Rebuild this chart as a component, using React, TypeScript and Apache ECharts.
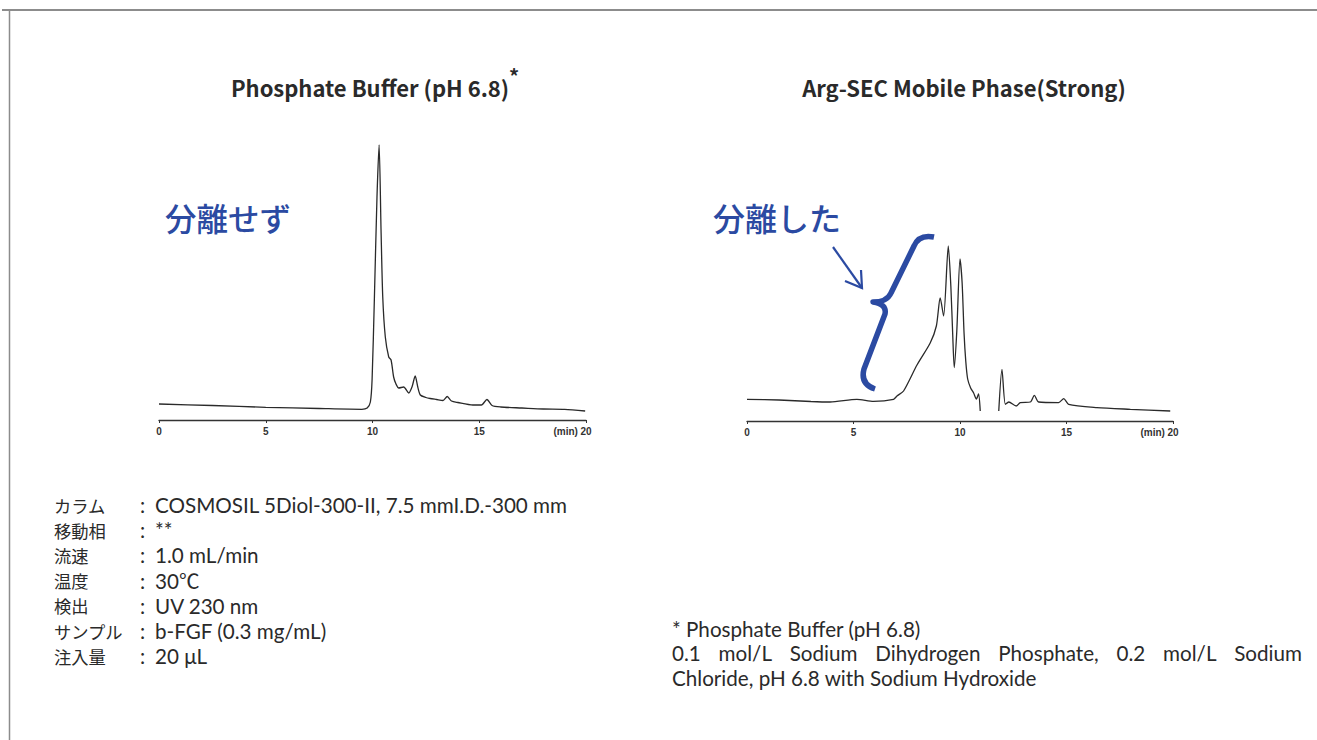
import React, { useEffect, useRef } from "react";
import * as echarts from "echarts";

// ---- Data ----
const xTicks = [0, 5, 10, 15, 20];
const xUnit = "(min)";

const leftTime = [0, 2.5, 5, 7.5, 9.5, 9.75, 9.9, 9.98, 10.09, 10.21, 10.31, 10.4, 10.48, 10.6, 10.76, 10.87, 10.99, 11.1, 11.23, 11.46, 11.7, 11.85, 12.0, 12.12, 12.24, 12.5, 12.7, 13.0, 13.3, 13.5, 13.7, 14.0, 14.7, 15.1, 15.36, 15.6, 16, 17, 18, 19, 19.96];
const leftSignal = [16, 14.5, 12.7, 11.5, 10.7, 12, 18, 40, 123, 223, 275, 190, 123, 83, 63, 60, 43, 36, 32, 33, 27, 33, 44, 33, 25, 22.5, 21.5, 20.5, 19.5, 23.5, 19, 17.5, 15, 15, 20.5, 14.5, 13, 12, 11, 10.7, 9];

const rightTime = [0, 1.5, 3, 3.9, 5.16, 5.94, 6.88, 7.04, 7.35, 7.98, 8.6, 8.89, 9.07, 9.23, 9.45, 9.57, 9.66, 9.73, 9.85, 10.0, 10.1, 10.19, 10.27, 10.36, 10.5, 10.64, 10.77, 10.87, 10.95, 11.4, 11.82, 11.97, 12.13, 12.29, 12.64, 12.83, 13.3, 13.49, 13.69, 14.63, 14.87, 15.1, 16.43, 18, 19.87];
const rightSignal = [21.7, 21, 19.5, 19, 21.7, 19.7, 21.7, 25, 30, 56, 78, 95, 123, 105, 175, 135, 85, 53.4, 90, 162, 138, 88, 60, 42, 33, 28, 22, 27, 10, null, 10, 51.7, 16.7, 19, 15, 18.4, 19, 25.7, 19, 18.4, 22.4, 16.7, 13.4, 11.7, 10];

const leftTitle = "Phosphate Buffer (pH 6.8)";
const rightTitle = "Arg-SEC Mobile Phase(Strong)";
const leftNote = "分離せず";
const rightNote = "分離した";

const condLabels = ["カラム", "移動相", "流速", "温度", "検出", "サンプル", "注入量"];
const condValues = [
  "COSMOSIL 5Diol-300-II, 7.5 mmI.D.-300 mm",
  "**",
  "1.0 mL/min",
  "30℃",
  "UV 230 nm",
  "b-FGF (0.3 mg/mL)",
  "20 μL",
];
const footLines = [
  "* Phosphate Buffer (pH 6.8)",
  "0.1 mol/L Sodium Dihydrogen Phosphate, 0.2 mol/L Sodium",
  "Chloride, pH 6.8 with Sodium Hydroxide",
];

const BLUE = "#2b4aa2";
const INK = "#2a2a2a";
const JP = "'Noto Sans CJK JP', 'Noto Sans', sans-serif";
const LAT = "Lato, 'Noto Sans CJK JP', sans-serif";

let registered = false;
function registerShapes() {
  if (registered) return;
  registered = true;
  const brace =
    "M934,237 Q919,234 914,246 L891,293 Q887,302 873,302 Q887,304 885,314 L864,369 Q860,384 875,389";
  echarts.graphic.registerShape("brace", echarts.graphic.extendPath(brace, {}) as any);
}

function pairs(t: number[], v: (number | null)[]) {
  return t.map((x, i) => [x, v[i] === null ? "-" : v[i]]);
}

const tickFont = {
  fontSize: 10,
  fontWeight: "bold" as const,
  fontFamily: "'Liberation Sans', Arial, sans-serif",
  color: "#333",
};

function axisX(gridIndex: number) {
  return {
    type: "value",
    gridIndex,
    min: 0,
    max: 20,
    interval: 5,
    splitLine: { show: false },
    axisLine: { show: true, onZero: false, lineStyle: { color: "#333", width: 1.3 } },
    axisTick: { show: true, length: 3, lineStyle: { color: "#333", width: 1 } },
    axisLabel: {
      margin: 6,
      ...tickFont,
      customValues: xTicks,
      formatter: (v: number) => (v === 20 ? `{m|${xUnit} }{n|${v}}{p|}` : String(v)),
      rich: {
        m: { ...tickFont, width: 27, align: "left" },
        n: { ...tickFont },
        p: { ...tickFont, width: 27 },
      },
    },
  };
}

function axisY(gridIndex: number) {
  return { type: "value", gridIndex, min: 0, max: 280, show: false, splitLine: { show: false } };
}

function measure(text: string, font: string) {
  const c = document.createElement("canvas").getContext("2d");
  if (!c) return text.length * 9;
  c.font = font;
  return c.measureText(text).width;
}

export default function App() {
  const ref = useRef<HTMLDivElement>(null);
  useEffect(() => {
    if (!ref.current) return;
    registerShapes();
    const chart = echarts.init(ref.current, null, { renderer: "svg" });
    // size the Latin body font so that the long column line spans as in the reference
    const refW = measure(condValues[0], `20px ${LAT}`);
    const bodySize = Math.min(20.8, Math.max(17, (20 * 413) / (refW || 413)));
    const bodyFont = `${bodySize.toFixed(2)}px ${LAT}`;
    const graphics: any[] = [
      // frame
      { type: "line", shape: { x1: 2, y1: 10, x2: 1317, y2: 10 }, style: { stroke: "#8c8c8c", lineWidth: 2 } },
      { type: "line", shape: { x1: 9.5, y1: 10, x2: 9.5, y2: 740 }, style: { stroke: "#8c8c8c", lineWidth: 1.5 } },
      // titles
      { type: "text", x: 370, y: 87, style: { text: leftTitle, font: `bold 22px ${JP}`, fill: INK, align: "center", verticalAlign: "middle" } },
      { type: "text", x: 509, y: 75, style: { text: "*", font: `bold 20px ${JP}`, fill: INK, align: "left", verticalAlign: "middle" } },
      { type: "text", x: 964, y: 87, style: { text: rightTitle, font: `bold 22px ${JP}`, fill: INK, align: "center", verticalAlign: "middle" } },
      // blue annotations
      { type: "text", x: 165, y: 217, style: { text: leftNote, font: `500 31.5px ${JP}`, fill: BLUE, align: "left", verticalAlign: "middle" } },
      { type: "text", x: 713, y: 217, style: { text: rightNote, font: `500 32px ${JP}`, fill: BLUE, align: "left", verticalAlign: "middle" } },
      { type: "brace", x: 0, y: 0, style: { stroke: BLUE, lineWidth: 5.5, fill: null, lineCap: "butt", lineJoin: "round" } },
      { type: "line", shape: { x1: 833, y1: 247, x2: 862, y2: 288 }, style: { stroke: BLUE, lineWidth: 2.2 } },
      { type: "polyline", shape: { points: [[845, 281], [862, 288], [861, 270]] }, style: { stroke: BLUE, lineWidth: 2.2, fill: null } },
    ];
    condLabels.forEach((lab, i) => {
      const y = 505 + i * 25.2;
      graphics.push({ type: "text", x: 54, y, style: { text: lab, font: `17.3px ${JP}`, lineHeight: 22, fill: INK, verticalAlign: "middle" } });
      graphics.push({ type: "text", x: 140, y, style: { text: ":", font: bodyFont, lineHeight: 22, fill: INK, verticalAlign: "middle" } });
      graphics.push({ type: "text", x: 155, y, style: { text: condValues[i], font: bodyFont, lineHeight: 22, fill: INK, verticalAlign: "middle" } });
    });
    // footnote; second line is justified to the right edge
    const footX = 672;
    const footRight = 1302;
    footLines.forEach((t, i) => {
      const y = 629 + i * 24.4;
      if (i === 1) {
        const words = t.split(" ");
        const widths = words.map((w) => measure(w, bodyFont));
        const total = widths.reduce((a, b) => a + b, 0);
        const gap = (footRight - footX - total) / (words.length - 1);
        let x = footX;
        words.forEach((w, k) => {
          graphics.push({ type: "text", x, y, style: { text: w, font: bodyFont, lineHeight: 22, fill: INK, verticalAlign: "middle" } });
          x += widths[k] + gap;
        });
      } else {
        graphics.push({ type: "text", x: footX, y, style: { text: t, font: bodyFont, lineHeight: 22, fill: INK, verticalAlign: "middle" } });
      }
    });

    chart.setOption({
      animation: false,
      backgroundColor: "#ffffff",
      grid: [
        { left: 159, top: 140, width: 427, height: 280 },
        { left: 747, top: 141, width: 426, height: 280 },
      ],
      xAxis: [axisX(0), axisX(1)],
      yAxis: [axisY(0), axisY(1)],
      series: [
        {
          type: "line",
          xAxisIndex: 0,
          yAxisIndex: 0,
          data: pairs(leftTime, leftSignal),
          showSymbol: false,
          smooth: 0.25,
          lineStyle: { color: INK, width: 1.3 },
        },
        {
          type: "line",
          xAxisIndex: 1,
          yAxisIndex: 1,
          data: pairs(rightTime, rightSignal),
          showSymbol: false,
          smooth: 0.25,
          connectNulls: false,
          lineStyle: { color: INK, width: 1.3 },
        },
      ],
      graphic: graphics,
    });
    return () => chart.dispose();
  }, []);
  return <div ref={ref} style={{ position: "absolute", left: 0, top: 0, width: 1317, height: 740 }} />;
}
